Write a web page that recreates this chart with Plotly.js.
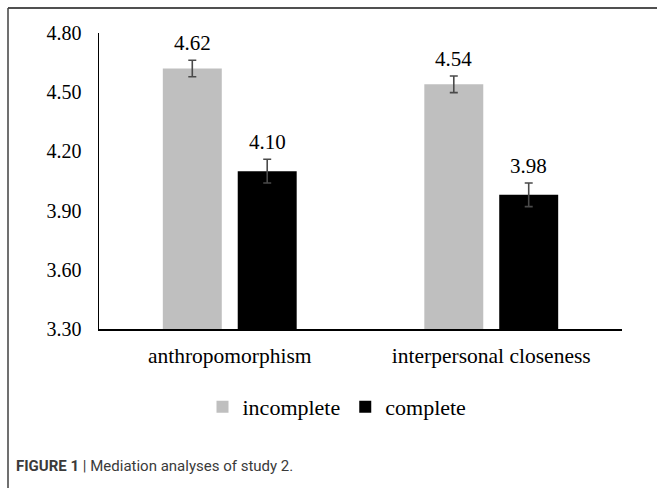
<!DOCTYPE html>
<html>
<head>
<meta charset="utf-8">
<script src="https://cdn.plot.ly/plotly-3.0.1.min.js"></script>
<style>
html,body{margin:0;padding:0;background:#fff;}
#chart{width:657px;height:488px;}
</style>
</head>
<body>
<div id="chart"></div>
<script>
const categories = ["anthropomorphism", "interpersonal closeness"];
const incompleteValues = [4.62, 4.54];
const completeValues = [4.10, 3.98];
const incompleteErrors = [0.042, 0.042];
const completeErrors = [0.06, 0.06];
const seriesNames = ["incomplete", "complete"];
const yTicks = [3.30, 3.60, 3.90, 4.20, 4.50, 4.80];

const W = 657, H = 488;
const L = 99, R = 35, T = 33, B = 159;
const pw = W - L - R, ph = H - T - B;
const px = v => (v - L) / pw;
const py = v => (H - B - v) / ph;

const serif = "Liberation Serif";

const traces = [
  {
    type: "bar", name: seriesNames[0], x: categories, y: incompleteValues,
    marker: {color: "#bfbfbf"},
    error_y: {type: "data", array: incompleteErrors, visible: true, color: "#4a4a4a", thickness: 1.6, width: 4},
    hoverinfo: "none"
  },
  {
    type: "bar", name: seriesNames[1], x: categories, y: completeValues,
    marker: {color: "#000000"},
    error_y: {type: "data", array: completeErrors, visible: true, color: "#4a4a4a", thickness: 1.6, width: 4},
    hoverinfo: "none"
  }
];

const annotations = [];
categories.forEach((c, i) => {
  annotations.push({x: c, y: incompleteValues[i] + incompleteErrors[i], xref: "x", yref: "y",
    text: incompleteValues[i].toFixed(2), showarrow: false, xshift: -37.5, yshift: 3, yanchor: "bottom",
    font: {family: serif, size: 21, color: "#000"}});
  annotations.push({x: c, y: completeValues[i] + completeErrors[i], xref: "x", yref: "y",
    text: completeValues[i].toFixed(2), showarrow: false, xshift: 37.5, yshift: 3, yanchor: "bottom",
    font: {family: serif, size: 21, color: "#000"}});
});
annotations.push({
  xref: "paper", yref: "paper", x: px(14), y: py(466), xanchor: "left", yanchor: "middle",
  showarrow: false, align: "left",
  text: "<b>FIGURE 1</b> | Mediation analyses of study 2.",
  font: {family: "Roboto", size: 15, color: "#3a3a3a"}
});

const layout = {
  width: W, height: H,
  margin: {l: L, r: R, t: T, b: B, pad: 0},
  paper_bgcolor: "#fff", plot_bgcolor: "#fff",
  font: {family: serif, color: "#000"},
  barmode: "group", bargap: 0.427, bargroupgap: 0.213,
  showlegend: true,
  legend: {orientation: "h", x: px(337), xanchor: "center", y: py(407), yanchor: "middle",
    font: {family: serif, size: 22, color: "#000"}, itemwidth: 30, traceorder: "normal"},
  xaxis: {
    type: "category", showgrid: false, zeroline: false,
    showline: true, linecolor: "#000", linewidth: 1.5,
    ticks: "", tickfont: {family: serif, size: 21.5, color: "#000"}, ticklabelstandoff: 7
  },
  yaxis: {
    range: [3.3, 4.8], showgrid: false, zeroline: false,
    showline: true, linecolor: "#000", linewidth: 1.5,
    tickvals: yTicks, ticktext: yTicks.map(v => v.toFixed(2)),
    ticks: "", tickfont: {family: serif, size: 20, color: "#000"}, ticklabelstandoff: 12
  },
  annotations: annotations,
  shapes: [
    {type: "line", xref: "paper", yref: "paper", x0: px(8), x1: px(657), y0: py(8), y1: py(8),
      line: {color: "#505050", width: 2}},
    {type: "line", xref: "paper", yref: "paper", x0: px(8), x1: px(8), y0: py(8), y1: py(488),
      line: {color: "#404040", width: 1.5}}
  ]
};

Plotly.newPlot("chart", traces, layout, {displayModeBar: false, staticPlot: true});
</script>
</body>
</html>
